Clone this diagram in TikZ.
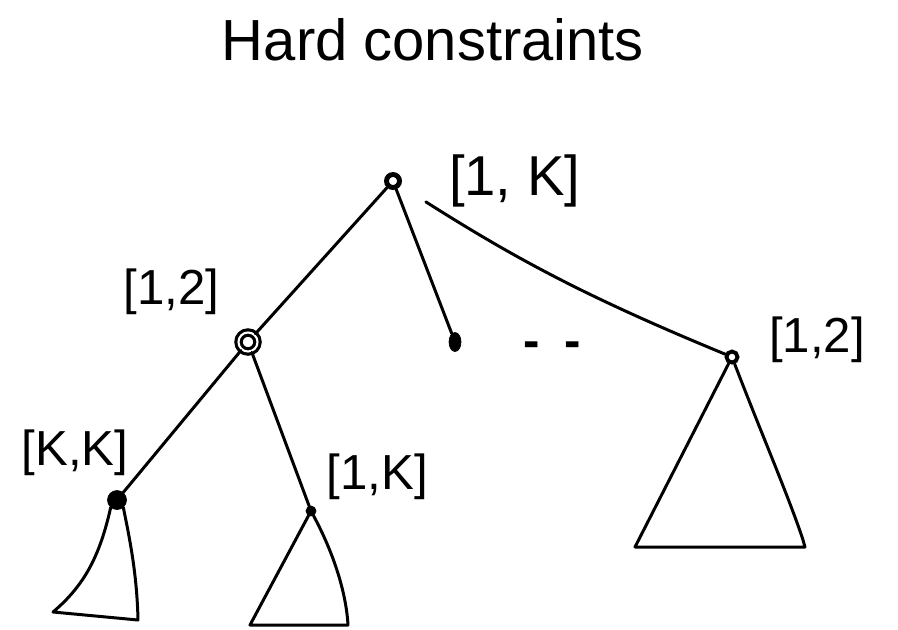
\documentclass[tikz,border=0pt]{standalone}
\usepackage{fontspec}
\setmainfont{Liberation Sans}
\usetikzlibrary{positioning, shapes.geometric}

\begin{document}
\begin{tikzpicture}[
        x=0.02cm, y=-0.02cm,
        title/.style={font=\fontsize{33}{36}\selectfont, anchor=base},
        interval/.style={font=\fontsize{28}{32}\selectfont, inner sep=1pt},
        vertex/.style={circle, draw=black, fill=black, inner sep=0pt, minimum size=0.3cm},
        ring/.style={circle, draw=black, line width=1.8pt, fill=white, inner sep=0pt, minimum size=0.22cm},
        edge/.style={line width=1.7pt, line cap=round},
        subtree/.style={line width=1.7pt, line cap=round, line join=round}
    ]
        \useasboundingbox (0,0) rectangle (898,629);
        \node[title] (heading) at (433,60) {Hard constraints};

        % tree
        \node[ring, line width=2.8pt, minimum size=0.26cm] (root) at (393,181) {};
        \node[ring, double, double distance=1.2pt, minimum size=0.38cm] (left) at (248,342) {};
        \node[ellipse, draw, fill=black, inner sep=0pt, minimum width=0.24cm, minimum height=0.38cm] (mid) at (455,342) {};
        \node[ring, line width=2.2pt, minimum size=0.22cm] (right) at (732,357) {};
        \node[vertex, minimum size=0.38cm] (leftleft) at (117,500) {};
        \node[vertex, minimum size=0.2cm] (leftright) at (311,511) {};
        \node[interval, font=\bfseries\fontsize{28}{32}\selectfont] (dots) at (552,350) {-\hspace{0.5cm}-};

        % intervals
        \node[interval, font=\fontsize{32}{36}\selectfont, right=0.9cm of root] (rootlab) {[1, K]};
        \node[interval, above left=0.34cm and 0.38cm of left] (leftlab) {[1,2]};
        \node[interval, right=0.55cm of right, yshift=0.34cm] (rightlab) {[1,2]};
        \node[interval, above=0.25cm of leftleft, xshift=-0.84cm] (leftleftlab) {[K,K]};
        \node[interval, above right=0.1cm and 0.2cm of leftright] (leftrightlab) {[1,K]};

        % subtree corners
        \coordinate (llA) at (53,612);
        \coordinate (llB) at (138,620);
        \coordinate (lrA) at (250,625);
        \coordinate (lrB) at (348,625);
        \coordinate (rA) at (635,547);
        \coordinate (rB) at (805,547);

        \draw[edge] (root) -- (left);
        \draw[edge] (root) -- (mid);
        \draw[edge, shorten <=0.6cm] (root) to[bend right=5] (right);
        \draw[edge] (left) -- (leftleft);
        \draw[edge] (left) -- (leftright);

        \draw[subtree] (leftleft.230) .. controls (100,555) and (85,585) .. (llA) -- (llB)
            .. controls (137,575) and (130,540) .. (leftleft.310);
        \draw[subtree] (leftright) -- (lrA) -- (lrB)
            .. controls (346,590) and (332,550) .. (leftright);
        \draw[subtree] (right) -- (rA) -- (rB) -- (803,540)
            .. controls (790,500) and (760,430) .. (right);
    \end{tikzpicture}
\end{document}
